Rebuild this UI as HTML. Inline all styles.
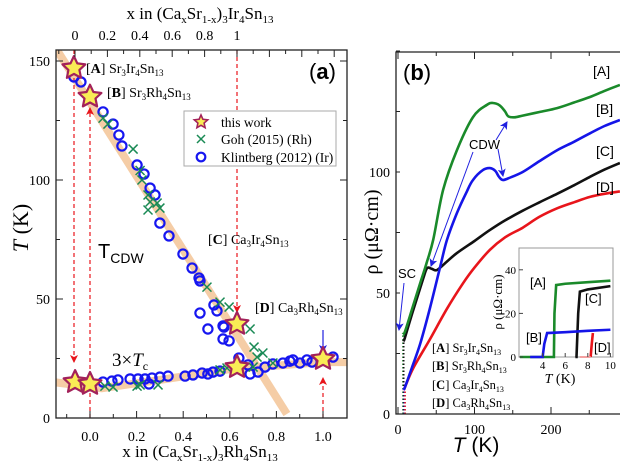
<!DOCTYPE html>
<html><head><meta charset="utf-8">
<style>
html,body{margin:0;padding:0;background:#fff;}
svg{display:block;font-family:"Liberation Serif",serif;}
.sans{font-family:"Liberation Sans",sans-serif;}
</style></head>
<body>
<svg id="fig" width="620" height="462" viewBox="0 0 620 462">
 <g id="pa"></g>
 <g id="pb"></g>
</svg>
<script>
// ---------- Panel (a) data ----------
const klintX=[-0.069,-0.039,0.056,0.099,0.124,0.137,0.202,0.232,0.258,0.279,0.300,0.339,0.399,0.438,0.468,0.472,0.532,0.545,0.472,0.506,0.571,0.575,0.571,0.597,0.639,
 0.056,0.094,0.12,0.172,0.206,0.236,0.266,0.253,0.300,0.335,0.408,0.442,0.481,0.506,0.528,0.558,0.678,0.687,0.721,0.751,0.785,0.828,0.858,0.871,0.901,0.931,0.953,1.043];
const klintT=[143.3,141.2,128.6,123.5,118.9,114.3,106.3,102.5,96.6,93.7,81.9,76.5,68.9,63.0,58.8,57.6,47.5,45.0,44.1,37.4,38.7,38.2,33.2,32.4,25.2,
 15.1,15.5,16.0,16.4,16.4,16.4,16.8,14.3,17.2,17.6,17.6,18.1,18.9,18.5,19.3,19.7,22.3,18.5,19.3,21.4,22.7,23.1,23.9,24.4,23.1,24.4,23.5,25.6];
const gohX=[0.056,0.077,0.185,0.215,0.223,0.249,0.258,0.288,0.300,0.249,0.502,0.558,0.597,0.687,0.704,0.742,0.717,0.700,0.064,0.099,0.202,0.215,0.292,0.558,0.588,0.785];
const gohT=[126,123.5,113,104,100,93.7,90.8,90.3,88.2,87.4,55.0,48.7,46.6,37.4,29.8,27.3,25.6,21.4,13.4,13.0,13.4,13.9,13.9,20.2,21.0,23.1];
const starX=[-0.069,0,0.631,-0.064,0,0.631,1.0];
const starT=[147,135,39.5,15.1,14.3,21.4,24.8];
const bandCdwX=[-0.142,0.845], bandCdwT=[154.6,1.7];
const bandScX=[-0.15,0.05,0.3,0.6,1.0,1.12], bandScT=[15,12.5,16,20.5,23.5,23.5];
const botTicks=[0,0.2,0.4,0.6,0.8,1.0], botLabels=["0.0","0.2","0.4","0.6","0.8","1.0"];
const topTicks=[0,0.2,0.4,0.6,0.8,1], topLabels=["0","0.2","0.4","0.6","0.8","1"];
const aYTicks=[0,50,100,150];

// ---------- Panel (b) data ----------
const tA=[6,9,20,30,37,46,59,77,98,116,124,133,140,144,152,163,185,208,230,251,270,290];
const rA=[33,34,45,55,62,72,92.6,109,122.7,127.7,128.5,127.5,125,123,122.6,123.3,124.8,126.4,128.7,131,133.5,136];
const tB=[7,9,18,29,42,55,64,77,90,98,111,120,127,132,137,145,163,185,208,230,251,270,290];
const rB=[10,11,19,29,44,60.7,72,83,92,96.7,100.8,101.6,100.5,98,96.7,97.5,100,104.5,109,112.5,116,119,121.5];
const tC=[7,9,20,33,38,44,51,64,77,100,120,140,163,185,208,230,251,270,290];
const rC=[30,31.5,43,56,60.3,60,59.5,63,66.5,71.5,76,80,84,87.5,91,94.5,98,101,103.7];
const tD=[8,9,20,42,64,85,100,120,140,163,185,208,230,251,270,290];
const rD=[10,11,19,31,43.5,54,60.5,67.8,73,77,81.5,85,87.5,89.7,91,92];
// inset data
const iTA=[2,5,5.05,5.2,6,8,10], iRA=[0,0,20,33,33.6,34.3,35];
const iTB=[2.9,4.0,4.15,4.4,6,8,10], iRB=[0,0,6,11,11.4,12,12.5];
const iTC=[6.9,7.0,7.15,7.3,8,10], iRC=[0,0,20,30,31,32.5];
const iTD=[8.25,8.35,8.45], iRD=[0,6,11];
const bXTicks=[0,100,200], bYTicks=[0,50,100];
const iXTicks=[4,6,8,10], iYTicks=[0,20,40];

const NS="http://www.w3.org/2000/svg";
function mk(parent,tag,attrs,text){const e=document.createElementNS(NS,tag);for(const k in attrs)e.setAttribute(k,attrs[k]);if(text!==undefined)e.textContent=text;parent.appendChild(e);return e;}
function smooth(pts){let d="M"+pts[0][0].toFixed(1)+","+pts[0][1].toFixed(1);for(let i=0;i<pts.length-1;i++){const p0=pts[i-1]||pts[i],p1=pts[i],p2=pts[i+1],p3=pts[i+2]||p2;const c1=[p1[0]+(p2[0]-p0[0])/6,p1[1]+(p2[1]-p0[1])/6],c2=[p2[0]-(p3[0]-p1[0])/6,p2[1]-(p3[1]-p1[1])/6];d+="C"+c1[0].toFixed(1)+","+c1[1].toFixed(1)+" "+c2[0].toFixed(1)+","+c2[1].toFixed(1)+" "+p2[0].toFixed(1)+","+p2[1].toFixed(1);}return d;}

const pa=document.getElementById('pa'), pb=document.getElementById('pb');
const ax=x=>90+x*233, ay=T=>418-T*2.38, tx=x=>75+x*162;

const defs=mk(document.getElementById('fig'),'defs',{});
defs.innerHTML='<marker id="arR" markerWidth="8" markerHeight="10" refX="7" refY="5" orient="auto" markerUnits="userSpaceOnUse"><path d="M0,1 L8,5 L0,9 L2,5 Z" fill="#e8151b"/></marker><marker id="arB" markerWidth="8" markerHeight="10" refX="7" refY="5" orient="auto" markerUnits="userSpaceOnUse"><path d="M0,1 L8,5 L0,9 L2,5 Z" fill="#2020e0"/></marker><clipPath id="clipA"><rect x="56" y="50" width="291" height="368"/></clipPath><clipPath id="clipB"><rect x="396" y="52" width="230" height="362"/></clipPath>';

const bandCdw=mk(pa,'polyline',{points:bandCdwX.map((x,i)=>ax(x)+","+ay(bandCdwT[i])).join(" "),fill:"none",stroke:"#f5cda6","stroke-width":8,"clip-path":"url(#clipA)"});


const bandSc=mk(pa,'polyline',{points:bandScX.map((x,i)=>ax(x)+","+ay(bandScT[i])).join(" "),fill:"none",stroke:"#f5cda6","stroke-width":8,"stroke-linejoin":"round","clip-path":"url(#clipA)"});



const dashes=[[74,50,74,362],[90,418,90,108],[237,50,237,312],[323,418,323,378]];
dashes.forEach(d=>{const l=mk(pa,'line',{x1:d[0],y1:d[1],x2:d[2],y2:d[3],stroke:"#e8151b","stroke-width":1.2,"stroke-dasharray":"4,3","marker-end":"url(#arR)"});

});
const blueAr=mk(pa,'line',{x1:323,y1:330,x2:323,y2:352,stroke:"#2020e0","stroke-width":1.2,"marker-end":"url(#arB)"});



klintX.forEach((x,i)=>{const c=mk(pa,'circle',{cx:ax(x),cy:ay(klintT[i]),r:4.6,fill:"none",stroke:"#1616f0","stroke-width":2.2});

});
gohX.forEach((x,i)=>{const X=ax(x),Y=ay(gohT[i]),s=4.5;const g=mk(pa,'path',{d:`M${X-s},${Y-s}L${X+s},${Y+s}M${X-s},${Y+s}L${X+s},${Y-s}`,stroke:"#1a8a55","stroke-width":1.5});

});
function starPath(cx,cy,R,r){let d="";for(let k=0;k<10;k++){const a=-Math.PI/2+k*Math.PI/5,rr=k%2?r:R;d+=(k?"L":"M")+(cx+rr*Math.cos(a)).toFixed(1)+","+(cy+rr*Math.sin(a)).toFixed(1);}return d+"Z";}
starX.forEach((x,i)=>{const s=mk(pa,'path',{d:starPath(ax(x),ay(starT[i]),12,5.8),fill:"#f9ec55",stroke:"#a3225a","stroke-width":2.2,"stroke-linejoin":"round"});

});

const frA=mk(pa,'rect',{x:56,y:50,width:291,height:368,fill:"none",stroke:"#222","stroke-width":1.3});


for(let v=0;v<=150;v+=25){const y=ay(v);mk(pa,'line',{x1:56,y1:y,x2:v%50?60:63,y2:y,stroke:"#222"});mk(pa,'line',{x1:347,y1:y,x2:v%50?343:340,y2:y,stroke:"#222"});}
for(let v=-0.1;v<=1.05;v+=0.1){const x=ax(v);const maj=Math.abs(Math.round(v*10)%2)===0;mk(pa,'line',{x1:x,y1:418,x2:x,y2:maj?411:414,stroke:"#222"});}
for(let v=-0.1;v<=1.7;v+=0.1){const x=tx(v);if(x>346)break;const maj=Math.abs(Math.round(v*10)%2)===0;mk(pa,'line',{x1:x,y1:50,x2:x,y2:maj?57:54,stroke:"#222"});}
aYTicks.forEach(v=>{const t=mk(pa,'text',{x:50,y:ay(v)+5,"text-anchor":"end","font-size":14},String(v));

});
botTicks.forEach((v,i)=>{const t=mk(pa,'text',{x:ax(v),y:441,"text-anchor":"middle","font-size":14},botLabels[i]);

});
topTicks.forEach((v,i)=>{const t=mk(pa,'text',{x:tx(v),y:40,"text-anchor":"middle","font-size":14},topLabels[i]);

});

pa.insertAdjacentHTML('beforeend',`
<text x="200" y="19" text-anchor="middle" font-size="17">x in (Ca<tspan font-size="11" dy="4">x</tspan><tspan dy="-4">Sr</tspan><tspan font-size="11" dy="4">1-x</tspan><tspan dy="-4">)</tspan><tspan font-size="11" dy="4">3</tspan><tspan dy="-4">Ir</tspan><tspan font-size="11" dy="4">4</tspan><tspan dy="-4">Sn</tspan><tspan font-size="11" dy="4">13</tspan></text>
<text x="200" y="457" text-anchor="middle" font-size="17">x in (Ca<tspan font-size="11" dy="4">x</tspan><tspan dy="-4">Sr</tspan><tspan font-size="11" dy="4">1-x</tspan><tspan dy="-4">)</tspan><tspan font-size="11" dy="4">3</tspan><tspan dy="-4">Rh</tspan><tspan font-size="11" dy="4">4</tspan><tspan dy="-4">Sn</tspan><tspan font-size="11" dy="4">13</tspan></text>
<text transform="translate(28,228) rotate(-90)" text-anchor="middle" font-size="22"><tspan font-style="italic">T</tspan> (K)</text>
<text class="sans" x="309" y="79" font-size="22">(<tspan font-weight="bold">a</tspan>)</text>
<text x="86" y="73" font-size="14">[<tspan font-weight="bold">A</tspan>] Sr<tspan font-size="9" dy="3">3</tspan><tspan dy="-3">Ir</tspan><tspan font-size="9" dy="3">4</tspan><tspan dy="-3">Sn</tspan><tspan font-size="9" dy="3">13</tspan></text>
<text x="107" y="97" font-size="14">[<tspan font-weight="bold">B</tspan>] Sr<tspan font-size="9" dy="3">3</tspan><tspan dy="-3">Rh</tspan><tspan font-size="9" dy="3">4</tspan><tspan dy="-3">Sn</tspan><tspan font-size="9" dy="3">13</tspan></text>
<text x="208" y="244" font-size="14">[<tspan font-weight="bold">C</tspan>] Ca<tspan font-size="9" dy="3">3</tspan><tspan dy="-3">Ir</tspan><tspan font-size="9" dy="3">4</tspan><tspan dy="-3">Sn</tspan><tspan font-size="9" dy="3">13</tspan></text>
<text x="255" y="312" font-size="14">[<tspan font-weight="bold">D</tspan>] Ca<tspan font-size="9" dy="3">3</tspan><tspan dy="-3">Rh</tspan><tspan font-size="9" dy="3">4</tspan><tspan dy="-3">Sn</tspan><tspan font-size="9" dy="3">13</tspan></text>
<text class="sans" x="98" y="258" font-size="20">T<tspan font-size="14" dy="5">CDW</tspan></text>
<text x="112" y="366" font-size="19">3×<tspan font-style="italic">T</tspan><tspan font-size="12" dy="4">c</tspan></text>
<g>
<rect x="184" y="111" width="152" height="55" fill="#fff" stroke="#aaa" stroke-width="1"/>
<path d="${starPath(201,122,7,3.3)}" fill="#f9ec55" stroke="#a3225a" stroke-width="1.6"/>
<text x="221" y="127" font-size="13.5">this work</text>
<path d="M197,135L205,143M197,143L205,135" stroke="#1a8a55" stroke-width="1.5"/>
<text x="221" y="144" font-size="13.5">Goh (2015) (Rh)</text>
<circle cx="201" cy="157" r="4.3" fill="none" stroke="#1616f0" stroke-width="2.2"/>
<text x="221" y="162" font-size="13.5">Klintberg (2012) (Ir)</text>
</g>`);

// ---------- Panel (b) ----------
const bx=T=>398+T*0.765, by=r=>414-r*2.42;
const ix=T=>520+(T-2)*11.3, iy=r=>357-r*2.18;
[["#1a8a2a",33],["#111",30],["#2020e0",10],["#e8151b",10]].forEach((c,k)=>{const l=mk(pb,'line',{x1:403+k*0.7,y1:by(0),x2:403+k*0.7,y2:by(c[1]),stroke:c[0],"stroke-width":1.6,"stroke-dasharray":"1.5,2"});

});
const seriesB=[[tD,rD,"#e8151b","curve-d"],[tC,rC,"#111","curve-c"],[tB,rB,"#1515e8","curve-b"],[tA,rA,"#1a8a2a","curve-a"]];
seriesB.forEach(s=>{const p=mk(pb,'path',{d:smooth(s[0].map((t,i)=>[bx(t),by(s[1][i])])),fill:"none",stroke:s[2],"stroke-width":2.6,"clip-path":"url(#clipB)"});

});
const frB=mk(pb,'path',{d:"M626,52 L396,52 L396,414 L626,414",fill:"none",stroke:"#222","stroke-width":1.3});


for(let v=0;v<=150;v+=25){mk(pb,'line',{x1:396,y1:by(v),x2:400,y2:by(v),stroke:"#222"});}
for(let v=0;v<=290;v+=50){mk(pb,'line',{x1:bx(v),y1:414,x2:bx(v),y2:v%100?410:407,stroke:"#222"});mk(pb,'line',{x1:bx(v),y1:52,x2:bx(v),y2:v%100?56:59,stroke:"#222"});}
bYTicks.forEach(v=>{const t=mk(pb,'text',{x:390,y:by(v)+5,"text-anchor":"end","font-size":14},String(v));

});
bXTicks.forEach(v=>{const t=mk(pb,'text',{x:bx(v),y:434,"text-anchor":"middle","font-size":14},String(v));

});

const ins=mk(pb,'g',{});


mk(ins,'rect',{x:519,y:248,width:94,height:109,fill:"#fff",stroke:"#999","stroke-width":1});
[[iTA,iRA,"#1a8a2a"],[iTC,iRC,"#111"],[iTB,iRB,"#1515e8"],[iTD,iRD,"#e8151b"]].forEach(s=>{const p=mk(ins,'polyline',{points:s[0].map((t,i)=>ix(t)+","+iy(s[1][i])).join(" "),fill:"none",stroke:s[2],"stroke-width":2.6});

});
mk(ins,'line',{x1:ix(7.3),y1:iy(0),x2:ix(8.25),y2:iy(0),stroke:"#f3a0a0","stroke-width":2});
iXTicks.forEach(v=>{mk(ins,'line',{x1:ix(v),y1:357,x2:ix(v),y2:353,stroke:"#444"});const t=mk(ins,'text',{x:ix(v),y:369,"text-anchor":"middle","font-size":11},String(v));

});
iYTicks.forEach(v=>{mk(ins,'line',{x1:519,y1:iy(v),x2:523,y2:iy(v),stroke:"#444"});const t=mk(ins,'text',{x:516,y:iy(v)+4,"text-anchor":"end","font-size":11},String(v));

});

pb.insertAdjacentHTML('beforeend',`
<text class="sans" x="403" y="80" font-size="22">(<tspan font-weight="bold">b</tspan>)</text>
<text class="sans" x="593" y="76" font-size="14">[A]</text>
<text class="sans" x="596" y="114" font-size="14">[B]</text>
<text class="sans" x="596" y="156" font-size="14">[C]</text>
<text class="sans" x="596" y="192" font-size="14">[D]</text>
<text class="sans" x="469" y="149" font-size="13">CDW</text>
<text class="sans" x="398" y="278" font-size="13">SC</text>
<g stroke="#2020e0" stroke-width="1">
<line x1="496" y1="140" x2="507" y2="122" marker-end="url(#arB)"/>
<line x1="498" y1="149" x2="503" y2="176" marker-end="url(#arB)"/>
<line x1="473" y1="152" x2="431" y2="266" marker-end="url(#arB)"/>
<line x1="404" y1="283" x2="399" y2="330" marker-end="url(#arB)"/>
</g>
<text transform="translate(378,232) rotate(-90)" text-anchor="middle" font-size="20">ρ (μΩ·cm)</text>
<text class="sans" x="476" y="452" text-anchor="middle" font-size="21"><tspan font-style="italic">T</tspan> (K)</text>
<text transform="translate(502,302) rotate(-90)" text-anchor="middle" font-size="13">ρ (μΩ·cm)</text>
<text x="560" y="383" text-anchor="middle" font-size="14"><tspan font-style="italic">T</tspan> (K)</text>
<text class="sans" x="530" y="287" font-size="13">[A]</text>
<text class="sans" x="585" y="303" font-size="13">[C]</text>
<text class="sans" x="526" y="342" font-size="13">[B]</text>
<text class="sans" x="594" y="352" font-size="13">[D]</text>
<g font-size="12.5">
<text x="432" y="352">[<tspan font-weight="bold">A</tspan>] Sr<tspan font-size="8" dy="3">3</tspan><tspan dy="-3">Ir</tspan><tspan font-size="8" dy="3">4</tspan><tspan dy="-3">Sn</tspan><tspan font-size="8" dy="3">13</tspan></text>
<text x="432" y="370">[<tspan font-weight="bold">B</tspan>] Sr<tspan font-size="8" dy="3">3</tspan><tspan dy="-3">Rh</tspan><tspan font-size="8" dy="3">4</tspan><tspan dy="-3">Sn</tspan><tspan font-size="8" dy="3">13</tspan></text>
<text x="432" y="389">[<tspan font-weight="bold">C</tspan>] Ca<tspan font-size="8" dy="3">3</tspan><tspan dy="-3">Ir</tspan><tspan font-size="8" dy="3">4</tspan><tspan dy="-3">Sn</tspan><tspan font-size="8" dy="3">13</tspan></text>
<text x="432" y="407">[<tspan font-weight="bold">D</tspan>] Ca<tspan font-size="8" dy="3">3</tspan><tspan dy="-3">Rh</tspan><tspan font-size="8" dy="3">4</tspan><tspan dy="-3">Sn</tspan><tspan font-size="8" dy="3">13</tspan></text>
</g>`);
</script>
</body></html>
